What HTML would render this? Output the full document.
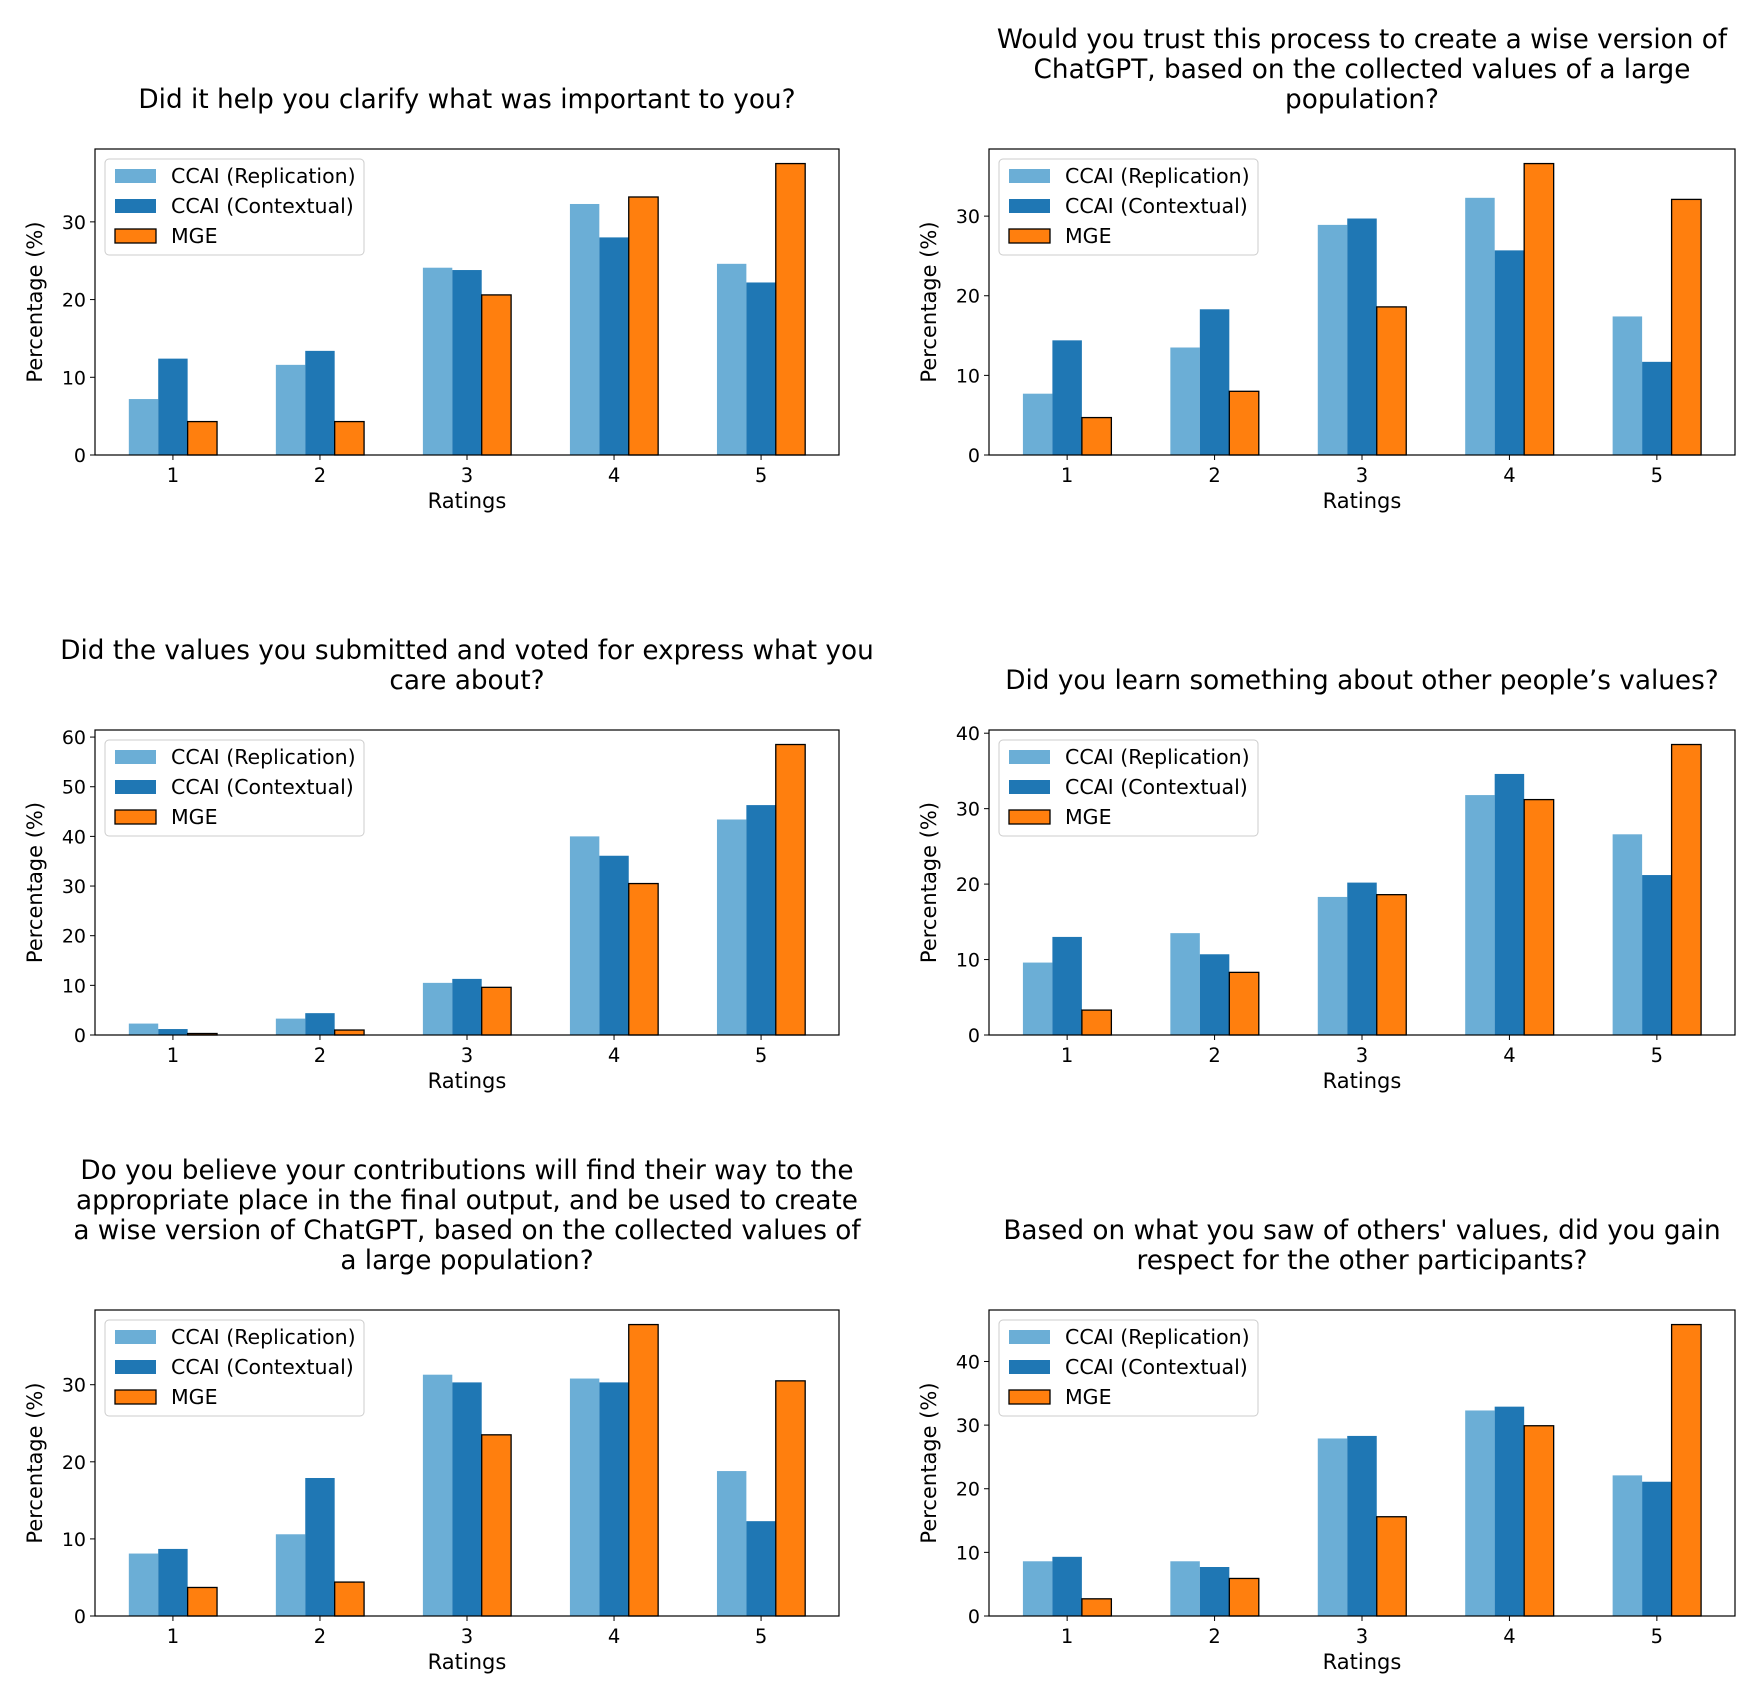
<!DOCTYPE html>
<html><head><meta charset="utf-8"><style>
html,body{margin:0;padding:0;background:#fff;}
svg{display:block;font-family:"DejaVu Sans","Liberation Sans",sans-serif;}
</style></head><body>
<svg id="fig" width="1758" height="1694" viewBox="0 0 1758 1694" xmlns="http://www.w3.org/2000/svg"></svg>
<script>
const categories = [1,2,3,4,5];
const seriesNames = ["CCAI (Replication)","CCAI (Contextual)","MGE"];
const titles = [
 ["Did it help you clarify what was important to you?"],
 ["Would you trust this process to create a wise version of","ChatGPT, based on the collected values of a large","population?"],
 ["Did the values you submitted and voted for express what you","care about?"],
 ["Did you learn something about other people’s values?"],
 ["Do you believe your contributions will find their way to the","appropriate place in the final output, and be used to create","a wise version of ChatGPT, based on the collected values of","a large population?"],
 ["Based on what you saw of others' values, did you gain","respect for the other participants?"]
];
const replication = [
 [7.2,11.6,24.1,32.3,24.6],
 [7.7,13.5,28.9,32.3,17.4],
 [2.3,3.3,10.5,40.0,43.4],
 [9.6,13.5,18.3,31.8,26.6],
 [8.1,10.6,31.3,30.8,18.8],
 [8.6,8.6,27.9,32.3,22.1]
];
const contextual = [
 [12.4,13.4,23.8,28.0,22.2],
 [14.4,18.3,29.7,25.7,11.7],
 [1.2,4.4,11.3,36.1,46.3],
 [13.0,10.7,20.2,34.6,21.2],
 [8.7,17.9,30.3,30.3,12.3],
 [9.3,7.7,28.3,32.9,21.1]
];
const mge = [
 [4.3,4.3,20.6,33.2,37.5],
 [4.7,8.0,18.6,36.6,32.1],
 [0.3,1.0,9.6,30.5,58.5],
 [3.3,8.3,18.6,31.2,38.5],
 [3.7,4.4,23.5,37.8,30.5],
 [2.7,5.9,15.6,29.9,45.8]
];
const yTicks = [
 [0,10,20,30],
 [0,10,20,30],
 [0,10,20,30,40,50,60],
 [0,10,20,30,40],
 [0,10,20,30],
 [0,10,20,30,40]
];

const NS="http://www.w3.org/2000/svg";
const fig=document.getElementById('fig');
function mk(tag,attrs,parent,text){
  const e=document.createElementNS(NS,tag);
  for(const k in attrs) e.setAttribute(k,attrs[k]);
  if(text!==undefined) e.textContent=text;
  parent.appendChild(e);return e;
}
const colors=["#6baed6","#1f77b4","#ff7f0e"];
const lefts=[95,989], rights=[839,1735];
const tops=[149,730,1310], bottoms=[455,1035,1616];

for(let c=0;c<6;c++){
  const col=c%2,row=Math.floor(c/2);
  const L=lefts[col],R=rights[col],T=tops[row],B=bottoms[row];
  const g=mk('g',{},fig);
  
  
  const series=[replication[c],contextual[c],mge[c]];
  const ymax=Math.max(...series.flat())*1.05;
  const x0=0.47,x1=5.53;
  const sx=v=>L+(v-x0)/(x1-x0)*(R-L);
  const sy=v=>B-v/ymax*(B-T);
  const lines=titles[c];
  const cx=(L+R)/2;
  lines.forEach((ln,i)=>{
    const t=mk('text',{x:cx,y:T-50-(lines.length-1-i)*30+9,'text-anchor':'middle','font-size':26.3,fill:'#000'},g,ln);
    
    
  });
  series.forEach((s,si)=>{
    s.forEach((v,i)=>{
      const xl=sx(categories[i]+(si-1)*0.2-0.1), xr=sx(categories[i]+(si-1)*0.2+0.1);
      const attrs={x:xl,y:sy(v),width:xr-xl,height:B-sy(v),fill:colors[si]};
      if(si===2){attrs.stroke='#000';attrs['stroke-width']=1.3;}
      const r=mk('rect',attrs,g);
      
      
    });
  });
  const fr=mk('rect',{x:L,y:T,width:R-L,height:B-T,fill:'none',stroke:'#000','stroke-width':1.2},g);
  
  
  categories.forEach(v=>{
    mk('line',{x1:sx(v),x2:sx(v),y1:B,y2:B+5,stroke:'#000','stroke-width':1},g);
    const t=mk('text',{x:sx(v),y:B+27,'text-anchor':'middle','font-size':19.5},g,String(v));
    
    
  });
  yTicks[c].forEach(v=>{
    mk('line',{x1:L-5,x2:L,y1:sy(v),y2:sy(v),stroke:'#000','stroke-width':1},g);
    const t=mk('text',{x:L-9,y:sy(v)+7,'text-anchor':'end','font-size':19},g,String(v));
    
    
  });
  const xl=mk('text',{x:cx,y:B+53,'text-anchor':'middle','font-size':21},g,'Ratings');
  
  
  const yx=L-53, yy=(T+B)/2;
  const yl=mk('text',{x:yx,y:yy,'text-anchor':'middle','font-size':21,transform:`rotate(-90 ${yx} ${yy})`},g,'Percentage (%)');
  
  
  const lg=mk('g',{},g);
  
  
  mk('rect',{x:L+10,y:T+10,width:259,height:96,rx:4,fill:'#fff','fill-opacity':0.8,stroke:'#ccc','stroke-width':1},lg);
  seriesNames.forEach((n,i)=>{
    const yc=T+27+i*30;
    const a={x:L+20,y:yc-7,width:41,height:14,fill:colors[i]};
    if(i===2){a.stroke='#000';a['stroke-width']=1.3;}
    const p=mk('rect',a,lg);
    
    
    const t=mk('text',{x:L+76,y:yc+7,'font-size':20.5},lg,n);
    
    
  });
}
</script>
</body></html>
